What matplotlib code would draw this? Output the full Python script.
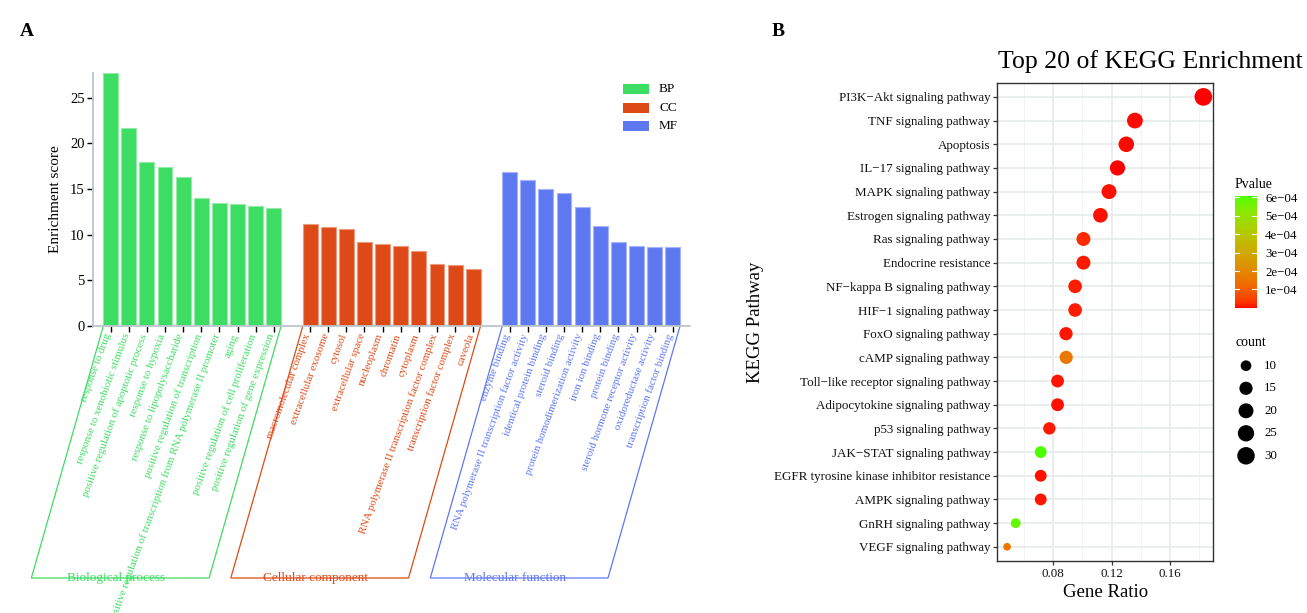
import numpy as np
import matplotlib
matplotlib.use("Agg")
import matplotlib.pyplot as plt
from matplotlib.transforms import offset_copy
from matplotlib.colors import ListedColormap, Normalize
from matplotlib.patches import Rectangle, Polygon

plt.rcParams['font.family'] = ['Liberation Serif', 'DejaVu Serif']

# ---------------- data: panel A ----------------
bp_terms = ["response to drug", "response to xenobiotic stimulus",
            "positive regulation of apoptotic process", "response to hypoxia",
            "response to lipopolysaccharide", "positive regulation of transcription",
            "positive regulation of transcription from RNA polymerase II promoter",
            "aging", "positive regulation of cell proliferation",
            "positive regulation of gene expression"]
bp_scores = [27.7, 21.7, 18.0, 17.45, 16.35, 14.0, 13.47, 13.4, 13.14, 12.9]

cc_terms = ["macromolecular complex", "extracellular exosome", "cytosol",
            "extracellular space", "nucleoplasm", "chromatin", "cytoplasm",
            "RNA polymerase II transcription factor complex",
            "transcription factor complex", "caveola"]
cc_scores = [11.14, 10.8, 10.6, 9.17, 8.98, 8.8, 8.2, 6.8, 6.65, 6.28]

mf_terms = ["enzyme binding", "RNA polymerase II transcription factor activity",
            "identical protein binding", "steroid binding",
            "protein homodimerization activity", "iron ion binding",
            "protein binding", "steroid hormone receptor activity",
            "oxidoreductase activity", "transcription factor binding"]
mf_scores = [16.87, 16.0, 15.0, 14.56, 13.0, 10.95, 9.17, 8.73, 8.66, 8.6]

group_keys = ["BP", "CC", "MF"]
group_names = ["Biological process", "Cellular component", "Molecular function"]
group_colors = ["#3ddc63", "#de4a17", "#5e78f2"]

# ---------------- data: panel B ----------------
pathways = ["PI3K\u2212Akt signaling pathway", "TNF signaling pathway", "Apoptosis",
            "IL\u221217 signaling pathway", "MAPK signaling pathway",
            "Estrogen signaling pathway", "Ras signaling pathway",
            "Endocrine resistance", "NF\u2212kappa B signaling pathway",
            "HIF\u22121 signaling pathway", "FoxO signaling pathway",
            "cAMP signaling pathway", "Toll\u2212like receptor signaling pathway",
            "Adipocytokine signaling pathway", "p53 signaling pathway",
            "JAK\u2212STAT signaling pathway",
            "EGFR tyrosine kinase inhibitor resistance", "AMPK signaling pathway",
            "GnRH signaling pathway", "VEGF signaling pathway"]
gene_ratio = [0.1828, 0.136, 0.1301, 0.1241, 0.1183, 0.1124, 0.1008, 0.1008,
              0.0951, 0.0951, 0.0889, 0.0890, 0.0831, 0.0831, 0.0775, 0.0716,
              0.0716, 0.0716, 0.0545, 0.0486]
counts = [31, 23, 22, 21, 20, 19, 17, 17, 16, 16, 15, 15, 14, 14, 13, 12, 12, 12, 9, 8]
pvalues = [1e-6, 5e-6, 4e-6, 3e-6, 6e-6, 8e-6, 2.5e-5, 1.2e-5, 1.5e-5, 1.5e-5,
           1e-5, 1.6e-4, 1e-5, 8e-6, 1.2e-5, 6.07e-4, 8e-6, 1e-5, 5.8e-4, 1.55e-4]
pv_ticks = [1e-4, 2e-4, 3e-4, 4e-4, 5e-4, 6e-4]
pv_ticklabels = ["1e\u221204", "2e\u221204", "3e\u221204", "4e\u221204", "5e\u221204", "6e\u221204"]
size_breaks = [10, 15, 20, 25, 30]

W, H = 1307, 613
fig = plt.figure(figsize=(W / 100, H / 100), dpi=100)


def fax(l, t, r, b):
    return fig.add_axes([l / W, 1 - b / H, (r - l) / W, (b - t) / H])


# ================= Panel A =================
axA = fax(93, 73, 690, 326)
positions = []
for gi, scores in enumerate([bp_scores, cc_scores, mf_scores]):
    pos = np.arange(len(scores)) + gi * 11
    positions.append(pos)
    lighter = matplotlib.colors.to_rgb(group_colors[gi])
    lighter = tuple(0.55 * c + 0.45 for c in lighter)
    axA.bar(pos, scores, width=0.82, color=group_colors[gi],
            edgecolor=lighter, linewidth=0.8, zorder=2)

axA.set_xlim(-0.97, 31.95)
axA.set_ylim(0, 27.7)
axA.set_yticks([0, 5, 10, 15, 20, 25])
axA.tick_params(axis='y', labelsize=10.5, length=4, width=1, color='black', pad=2)
allpos = np.concatenate(positions)
axA.set_xticks(allpos)
axA.set_xticklabels([])
axA.tick_params(axis='x', length=4, width=1, color='black', direction='out')
for s in ['top', 'right']:
    axA.spines[s].set_visible(False)
for s in ['left', 'bottom']:
    axA.spines[s].set_color('#bcc6ca')
    axA.spines[s].set_linewidth(1.3)
axA.set_ylabel("Enrichment score", fontsize=11, labelpad=6)

lab_tr = offset_copy(axA.transData, fig=fig, x=-2, y=-8, units='dots')
ybottom = -(578 - 326) / (253 / 27.7)
shift = -72 / (597 / 32.92)
for gi, terms in enumerate([bp_terms, cc_terms, mf_terms]):
    pos = positions[gi]
    for x, t in zip(pos, terms):
        axA.text(x, 0, t, transform=lab_tr, rotation=70, rotation_mode='anchor',
                 ha='right', va='center', fontsize=7.8, color=group_colors[gi],
                 clip_on=False)
    x0, x1 = pos[0] - 0.4, pos[-1] + 0.4
    poly = Polygon([[x0, 0], [x0 + shift, ybottom], [x1 + shift, ybottom], [x1, 0]],
                   closed=False, fill=False, edgecolor=group_colors[gi],
                   linewidth=0.9, clip_on=False, zorder=1)
    axA.add_patch(poly)
    axA.text(pos[0] + 0.3, ybottom, group_names[gi], ha='center', va='center',
             fontsize=9.5, color=group_colors[gi], clip_on=False)

# overlay axes in pixel coordinates for legends
ov = fig.add_axes([0, 0, 1, 1], zorder=5)
ov.set_xlim(0, W)
ov.set_ylim(H, 0)
ov.axis('off')

for gi, (key, yc) in enumerate(zip(group_keys, [89.3, 107.7, 126.0])):
    ov.add_patch(Rectangle((622.7, yc - 5), 26.6, 10, facecolor=group_colors[gi],
                           edgecolor='none'))
    ov.text(659, yc, key, ha='left', va='center', fontsize=9.5)

fig.text(27 / W, 1 - 32 / H, "A", fontsize=14, fontweight='bold', ha='center', va='center')
fig.text(778 / W, 1 - 31 / H, "B", fontsize=14, fontweight='bold', ha='center', va='center')


# ================= Panel B =================
def srgb_to_lab(rgb):
    c = np.asarray(rgb, float)
    lin = np.where(c <= 0.04045, c / 12.92, ((c + 0.055) / 1.055) ** 2.4)
    M = np.array([[0.4124, 0.3576, 0.1805], [0.2126, 0.7152, 0.0722], [0.0193, 0.1192, 0.9505]])
    xyz = M @ lin / np.array([0.95047, 1.0, 1.08883])
    f = np.where(xyz > 0.008856, np.cbrt(xyz), 7.787 * xyz + 16 / 116)
    return np.array([116 * f[1] - 16, 500 * (f[0] - f[1]), 200 * (f[1] - f[2])])


def lab_to_srgb(lab):
    L, a, b = lab
    fy = (L + 16) / 116
    fx = fy + a / 500
    fz = fy - b / 200
    f = np.array([fx, fy, fz])
    xyz = np.where(f ** 3 > 0.008856, f ** 3, (f - 16 / 116) / 7.787)
    xyz = xyz * np.array([0.95047, 1.0, 1.08883])
    Minv = np.linalg.inv(np.array([[0.4124, 0.3576, 0.1805], [0.2126, 0.7152, 0.0722],
                                   [0.0193, 0.1192, 0.9505]]))
    lin = Minv @ xyz
    lin = np.clip(lin, 0, 1)
    c = np.where(lin <= 0.0031308, 12.92 * lin, 1.055 * lin ** (1 / 2.4) - 0.055)
    return np.clip(c, 0, 1)


lo = srgb_to_lab([1.0, 0.0, 0.0])
hi = srgb_to_lab([0.3, 1.0, 0.0])
cols = [lab_to_srgb(lo + (hi - lo) * t) for t in np.linspace(0, 1, 256)]
cmap = ListedColormap(cols)
norm = Normalize(vmin=min(pvalues), vmax=max(pvalues))


def dot_area(c):
    d_px = 7.7 + 10.0 * np.sqrt(max(c - min(counts), 0) / (max(counts) - min(counts)))
    return (d_px * 72 / 100) ** 2


axB = fax(997.3, 82.7, 1213, 561)
ypos = np.arange(len(pathways))
axB.set_ylim(len(pathways) - 1 + 0.6, -0.6)
axB.set_xlim(0.0419, 0.1894)
axB.set_xticks([0.08, 0.12, 0.16])
axB.set_xticklabels(["0.08", "0.12", "0.16"])
axB.set_xticks([0.06, 0.10, 0.14, 0.18], minor=True)
axB.set_yticks(ypos)
axB.set_yticklabels(pathways)
axB.grid(True, which='major', color='#e4eaea', linewidth=1.1, zorder=0)
axB.grid(True, which='minor', axis='x', color='#eef2f2', linewidth=0.6, zorder=0)
axB.set_axisbelow(True)
axB.tick_params(axis='both', which='major', labelsize=9.4, length=3, width=0.9,
                color='#333333', labelcolor='#111111', pad=2)
axB.tick_params(axis='x', which='minor', length=0)
for s in axB.spines.values():
    s.set_color('#333333')
    s.set_linewidth(1.0)
axB.scatter(gene_ratio, ypos, s=[dot_area(c) for c in counts], c=pvalues,
            cmap=cmap, norm=norm, edgecolors='none', zorder=3, clip_on=False)
axB.set_xlabel("Gene Ratio", fontsize=13.5, labelpad=3)
axB.set_ylabel("KEGG Pathway", fontsize=13.5)
axB.yaxis.set_label_coords((764 - 997.3) / (1213 - 997.3), 0.5)
fig.text(1150 / W, 1 - 62 / H, "Top 20 of KEGG Enrichment", fontsize=18.5,
         ha='center', va='center')

# colorbar
cax = fax(1235, 196, 1256.7, 307.7)
grad = np.linspace(norm.vmin, norm.vmax, 256).reshape(-1, 1)
cax.imshow(grad, aspect='auto', cmap=cmap, norm=norm, origin='lower',
           extent=[0, 1, norm.vmin, norm.vmax])
cax.set_xlim(0, 1)
cax.set_ylim(norm.vmin, norm.vmax)
cax.set_xticks([])
cax.yaxis.tick_right()
cax.set_yticks(pv_ticks)
cax.set_yticklabels(pv_ticklabels)
cax.tick_params(axis='y', length=0, labelsize=9.3, pad=6)
for s in cax.spines.values():
    s.set_visible(False)
for v in pv_ticks:
    cax.plot([0, 0.2], [v, v], color='white', lw=0.8)
    cax.plot([0.8, 1], [v, v], color='white', lw=0.8)
ov.text(1235, 184, "Pvalue", ha='left', va='center', fontsize=10)

# size legend
ov.text(1235, 343, "count", ha='left', va='center', fontsize=10)
for v, yc in zip(size_breaks, [365.7, 388.3, 410.8, 433.3, 455.8]):
    ov.scatter([1246], [yc], s=dot_area(v), color='black', edgecolors='none')
    ov.text(1264, yc, str(v), ha='left', va='center', fontsize=9.3)

fig.savefig("out.png", dpi=100)
